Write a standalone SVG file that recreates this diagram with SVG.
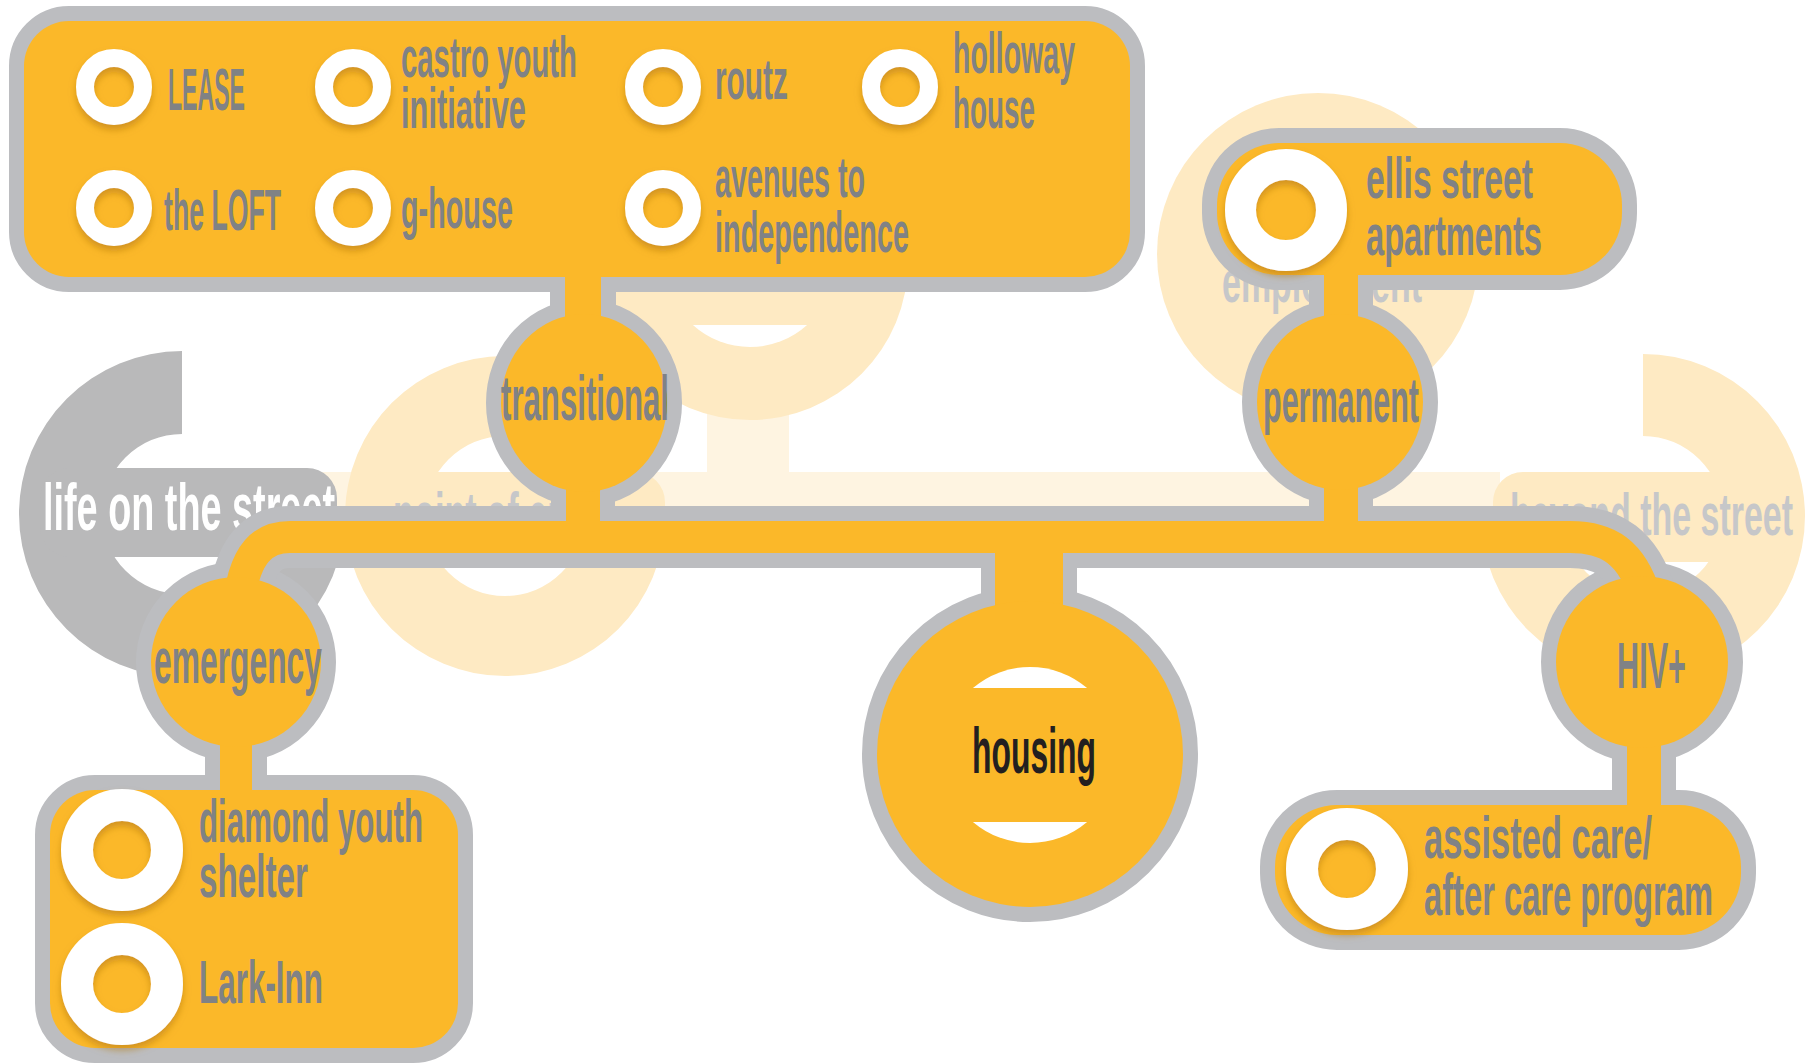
<svg xmlns="http://www.w3.org/2000/svg" xmlns:xlink="http://www.w3.org/1999/xlink" width="1808" height="1063" viewBox="0 0 1808 1063">
<defs>
<style>
.t{font-family:"Liberation Sans Narrow","Liberation Sans","DejaVu Sans Condensed",Arial,sans-serif;font-weight:bold;fill:#808285}
.bgt{font-family:"Liberation Sans Narrow","Liberation Sans","DejaVu Sans Condensed",Arial,sans-serif;font-weight:bold;fill:#C6C7C9}
.cream{fill:#FEEAC3}
.band{fill:#FEF4E1}
.ol{fill:#BCBDC0;stroke:#BCBDC0;stroke-width:30;stroke-linejoin:round}
.olc{fill:none;stroke:#BCBDC0}
.yf{fill:#FBB829}
.yc{fill:none;stroke:#FBB829}
.ring{fill:none;stroke:#FFFFFF;filter:url(#sh)}
</style>
<filter id="sh" x="-30%" y="-30%" width="160%" height="170%">
<feDropShadow dx="0" dy="5" stdDeviation="3.5" flood-color="#B07410" flood-opacity="0.55"/>
</filter>
<rect id="s-topbox" x="24" y="21" width="1106" height="256" rx="45"/>
<ellipse id="s-trans" cx="584" cy="403" rx="83" ry="89"/>
<ellipse id="s-perm" cx="1340" cy="402" rx="83" ry="88"/>
<rect id="s-ellis" x="1217" y="143" width="405" height="132" rx="62"/>
<circle id="s-housing" cx="1030" cy="754" r="153"/>
<circle id="s-emerg" cx="236" cy="662" r="85"/>
<circle id="s-hiv" cx="1642" cy="662" r="86"/>
<rect id="s-blbox" x="50" y="790" width="408" height="258" rx="45"/>
<rect id="s-brbox" x="1275" y="805" width="466" height="130" rx="62"/>
<path id="c-stem1" d="M583 268V322"/>
<path id="c-stem2" d="M583 483V526"/>
<path id="c-stem3" d="M1341 268V322"/>
<path id="c-stem4" d="M1341 483V526"/>
<path id="c-stem5" d="M1029 545V612"/>
<path id="c-stem6" d="M236 738V797"/>
<path id="c-stem7" d="M1644 738V812"/>
<path id="c-main" d="M238 610L240 595C246 555 262 537 290 537H1570C1608 537 1632 552 1646 598L1646 610"/>
</defs>

<g id="background">
<rect class="band" x="300" y="472" width="1200" height="90"/>
<rect class="band" x="707" y="400" width="82" height="80"/>
<g id="bg-top">
<circle class="cream" cx="750" cy="262" r="158"/>
<path fill="#FFFFFF" d="M692.9 325A85 85 0 0 0 807.1 325Z"/>
</g>
<g id="bg-employment">
<circle class="cream" cx="1318" cy="254" r="161"/>
<text class="bgt" x="1222" y="302" font-size="60" textLength="200" lengthAdjust="spacingAndGlyphs">employment</text>
</g>
<g id="bg-point-of-entry">
<path class="cream" d="M505 356A160 160 0 1 0 665 516L585 516A80 80 0 1 1 505 436Z"/>
<rect class="cream" x="360" y="472" width="305" height="90" rx="30"/>
<text class="bgt" x="393" y="535" font-size="62" textLength="219" lengthAdjust="spacingAndGlyphs">point of entry</text>
</g>
<g id="bg-beyond">
<path class="cream" d="M1643 354A162 162 0 1 1 1481 516L1563 516A80 80 0 1 0 1643 436Z"/>
<rect class="cream" x="1493" y="472" width="300" height="90" rx="30"/>
<text class="bgt" x="1510" y="535" font-size="60" textLength="283" lengthAdjust="spacingAndGlyphs">beyond the street</text>
</g>
<g id="bg-life">
<path fill="#B9B9BA" d="M182 351A163 163 0 1 0 345 514L262 514A80 80 0 1 1 182 434Z"/>
<rect fill="#B9B9BA" x="40" y="468" width="297" height="89" rx="30"/>
<text x="43" y="530" font-size="66" textLength="292" lengthAdjust="spacingAndGlyphs" style="font-family:'Liberation Sans Narrow','Liberation Sans',Arial,sans-serif;font-weight:bold;fill:#FFFFFF">life on the street</text>
</g>
</g>

<g id="outlines">
<use xlink:href="#s-topbox" class="ol"/>
<use xlink:href="#s-trans" class="ol"/>
<use xlink:href="#s-perm" class="ol"/>
<use xlink:href="#s-ellis" class="ol"/>
<use xlink:href="#s-housing" class="ol"/>
<use xlink:href="#s-emerg" class="ol"/>
<use xlink:href="#s-hiv" class="ol"/>
<use xlink:href="#s-blbox" class="ol"/>
<use xlink:href="#s-brbox" class="ol"/>
<use xlink:href="#c-stem1" class="olc" stroke-width="66"/>
<use xlink:href="#c-stem2" class="olc" stroke-width="64"/>
<use xlink:href="#c-stem3" class="olc" stroke-width="64"/>
<use xlink:href="#c-stem4" class="olc" stroke-width="64"/>
<use xlink:href="#c-stem5" class="olc" stroke-width="96"/>
<use xlink:href="#c-stem6" class="olc" stroke-width="62"/>
<use xlink:href="#c-stem7" class="olc" stroke-width="64"/>
<use xlink:href="#c-main" class="olc" stroke-width="62"/>
</g>

<g id="connectors">
<use xlink:href="#c-stem1" class="yc" stroke-width="36"/>
<use xlink:href="#c-stem2" class="yc" stroke-width="34"/>
<use xlink:href="#c-stem3" class="yc" stroke-width="34"/>
<use xlink:href="#c-stem4" class="yc" stroke-width="34"/>
<use xlink:href="#c-stem5" class="yc" stroke-width="68"/>
<use xlink:href="#c-stem6" class="yc" stroke-width="32"/>
<use xlink:href="#c-stem7" class="yc" stroke-width="34"/>
<use xlink:href="#c-main" class="yc" stroke-width="32"/>
</g>

<g id="node-transitional-list">
<use xlink:href="#s-topbox" class="yf"/>
<circle class="ring" cx="114" cy="87" r="29" stroke-width="18"/>
<circle class="ring" cx="353" cy="87" r="29" stroke-width="18"/>
<circle class="ring" cx="663" cy="87" r="29" stroke-width="18"/>
<circle class="ring" cx="900" cy="87" r="29" stroke-width="18"/>
<circle class="ring" cx="114" cy="208" r="29" stroke-width="18"/>
<circle class="ring" cx="353" cy="208" r="29" stroke-width="18"/>
<circle class="ring" cx="663" cy="208" r="29" stroke-width="18"/>
<text class="t" x="168" y="110" font-size="60" textLength="77" lengthAdjust="spacingAndGlyphs">LEASE</text>
<text class="t" x="401" y="77" font-size="58" textLength="176" lengthAdjust="spacingAndGlyphs">castro youth</text>
<text class="t" x="401" y="128" font-size="58" textLength="125" lengthAdjust="spacingAndGlyphs">initiative</text>
<text class="t" x="715" y="99" font-size="58" textLength="73" lengthAdjust="spacingAndGlyphs">routz</text>
<text class="t" x="953" y="73" font-size="58" textLength="122" lengthAdjust="spacingAndGlyphs">holloway</text>
<text class="t" x="953" y="128" font-size="58" textLength="82" lengthAdjust="spacingAndGlyphs">house</text>
<text class="t" x="164" y="230" font-size="58" textLength="117" lengthAdjust="spacingAndGlyphs">the LOFT</text>
<text class="t" x="401" y="228" font-size="58" textLength="112" lengthAdjust="spacingAndGlyphs">g-house</text>
<text class="t" x="715" y="197" font-size="58" textLength="150" lengthAdjust="spacingAndGlyphs">avenues to</text>
<text class="t" x="715" y="252" font-size="58" textLength="194" lengthAdjust="spacingAndGlyphs">independence</text>
</g>

<g id="node-transitional">
<use xlink:href="#s-trans" class="yf"/>
<text class="t" x="501" y="420" font-size="63" textLength="168" lengthAdjust="spacingAndGlyphs">transitional</text>
</g>

<g id="node-permanent">
<use xlink:href="#s-perm" class="yf"/>
<text class="t" x="1263" y="422" font-size="63" textLength="156" lengthAdjust="spacingAndGlyphs">permanent</text>
</g>

<g id="node-ellis">
<use xlink:href="#s-ellis" class="yf"/>
<circle class="ring" cx="1286" cy="210" r="45.5" stroke-width="31"/>
<text class="t" x="1366" y="198" font-size="57" textLength="167" lengthAdjust="spacingAndGlyphs">ellis street</text>
<text class="t" x="1366" y="255" font-size="57" textLength="176" lengthAdjust="spacingAndGlyphs">apartments</text>
</g>

<g id="node-housing">
<use xlink:href="#s-housing" class="yf"/>
<path fill="#FFFFFF" d="M972.9 688A88 88 0 0 1 1087.1 688Z"/>
<path fill="#FFFFFF" d="M972.9 822A88 88 0 0 0 1087.1 822Z"/>
<text x="972" y="773" font-size="64" textLength="124" lengthAdjust="spacingAndGlyphs" style="font-family:'Liberation Sans Narrow','Liberation Sans',Arial,sans-serif;font-weight:bold;fill:#231F20">housing</text>
</g>

<g id="node-emergency">
<use xlink:href="#s-emerg" class="yf"/>
<text class="t" x="154" y="683" font-size="65" textLength="168" lengthAdjust="spacingAndGlyphs">emergency</text>
</g>

<g id="node-emergency-list">
<use xlink:href="#s-blbox" class="yf"/>
<circle class="ring" cx="122" cy="850" r="45" stroke-width="32"/>
<circle class="ring" cx="122" cy="984" r="45" stroke-width="32"/>
<text class="t" x="199" y="842" font-size="61" textLength="224" lengthAdjust="spacingAndGlyphs">diamond youth</text>
<text class="t" x="199" y="897" font-size="61" textLength="109" lengthAdjust="spacingAndGlyphs">shelter</text>
<text class="t" x="199" y="1003" font-size="62" textLength="124" lengthAdjust="spacingAndGlyphs">Lark-Inn</text>
</g>

<g id="node-hiv">
<use xlink:href="#s-hiv" class="yf"/>
<text class="t" x="1617" y="688" font-size="64" textLength="69" lengthAdjust="spacingAndGlyphs">HIV+</text>
</g>

<g id="node-hiv-list">
<use xlink:href="#s-brbox" class="yf"/>
<circle class="ring" cx="1347" cy="869" r="45" stroke-width="32"/>
<text class="t" x="1424" y="858" font-size="60" textLength="228" lengthAdjust="spacingAndGlyphs">assisted care/</text>
<text class="t" x="1424" y="915" font-size="60" textLength="289" lengthAdjust="spacingAndGlyphs">after care program</text>
</g>
</svg>
